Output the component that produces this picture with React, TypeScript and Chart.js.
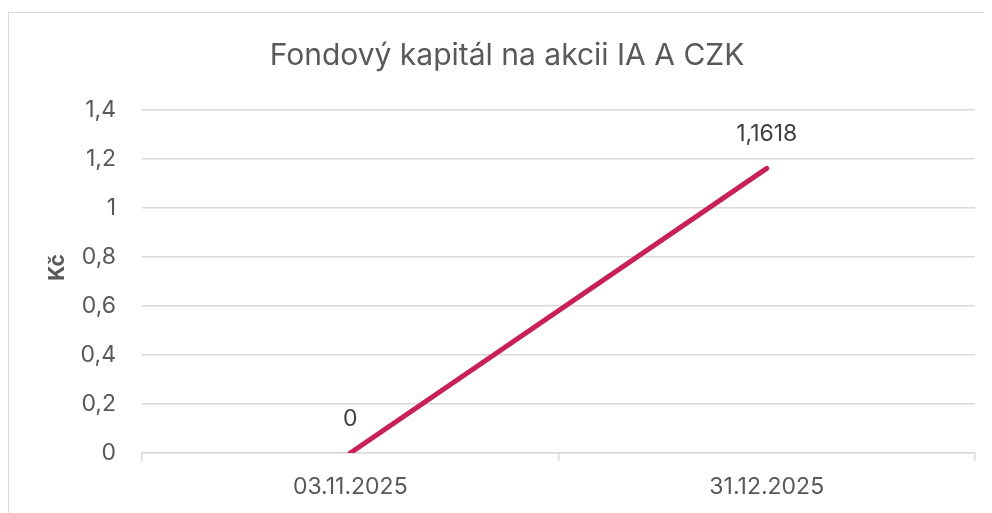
import React, { useEffect, useRef } from "react";
import { Chart, registerables } from "chart.js";

Chart.register(...registerables);

const TITLE = "Fondový kapitál na akcii IA A CZK";
const Y_TITLE = "Kč";
const categories = ["03.11.2025", "31.12.2025"];
const values = [0, 1.1618];
const valueLabels = ["0", "1,1618"];
const yMin = 0;
const yMax = 1.4;
const yStep = 0.2;

const FONT = "Inter, 'Noto Sans', sans-serif";
const TEXT = "#595959";
const GRID = "#d9d9d9";
const LINE = "#C8215A";

const dataLabelPlugin = {
  id: "dataLabels",
  afterDatasetsDraw(chart: any) {
    const ctx = chart.ctx;
    const meta = chart.getDatasetMeta(0);
    ctx.save();
    ctx.font = `23px ${FONT}`;
    ctx.fillStyle = "#404040";
    ctx.textAlign = "center";
    ctx.textBaseline = "middle";
    meta.data.forEach((pt: any, i: number) => {
      ctx.fillText(valueLabels[i], pt.x, pt.y - 34);
    });
    ctx.restore();
  },
};

const yTitlePlugin = {
  id: "yTitle",
  afterDraw(chart: any) {
    const ctx = chart.ctx;
    const area = chart.chartArea;
    ctx.save();
    ctx.translate(49, (area.top + area.bottom) / 2 - 14);
    ctx.rotate(-Math.PI / 2);
    ctx.font = `bold 21px ${FONT}`;
    ctx.fillStyle = TEXT;
    ctx.textAlign = "center";
    ctx.textBaseline = "middle";
    ctx.fillText(Y_TITLE, 0, 0);
    ctx.restore();
  },
};

export default function App() {
  const ref = useRef<HTMLCanvasElement | null>(null);
  useEffect(() => {
    document.body.style.overflow = "hidden";
    if (!ref.current) return;
    const chart = new Chart(ref.current, {
      type: "line",
      data: {
        labels: categories,
        datasets: [
          {
            data: values,
            borderColor: LINE,
            borderWidth: 5,
            borderCapStyle: "round",
            pointRadius: 0,
            tension: 0,
          },
        ],
      },
      options: {
        animation: false,
        responsive: false,
        layout: { padding: { left: 30, right: 15, top: 0, bottom: 0 } },
        plugins: {
          legend: { display: false },
          tooltip: { enabled: false },
          title: {
            display: true,
            text: TITLE,
            color: TEXT,
            font: { family: FONT, size: 30, weight: "normal" },
            padding: { top: 25, bottom: 36 },
          },
        },
        scales: {
          x: {
            offset: true,
            grid: {
              offset: true,
              drawOnChartArea: false,
              drawTicks: true,
              tickLength: 8,
              color: GRID,
              lineWidth: 1.5,
            },
            border: { display: true, color: GRID, width: 1.5 },
            ticks: { color: TEXT, font: { family: FONT, size: 23 }, padding: 12, maxRotation: 0 },
            afterFit: (s: any) => {
              s.height = 60;
            },
          },
          y: {
            min: yMin,
            max: yMax,
            ticks: {
              stepSize: yStep,
              color: TEXT,
              font: { family: FONT, size: 23 },
              padding: 26,
              callback: (v: any) => String(+Number(v).toFixed(1)).replace(".", ","),
            },
            grid: { drawTicks: false, color: GRID, lineWidth: 1.5 },
            border: { display: false },
            afterFit: (s: any) => {
              s.width = 103;
            },
          },
        },
      },
      plugins: [dataLabelPlugin, yTitlePlugin],
    });
    return () => chart.destroy();
  }, []);
  return (
    <div
      style={{
        marginTop: 4,
        width: 1000,
        height: 505,
        border: "1px solid #d9d9d9",
        background: "#fff",
      }}
    >
      <canvas ref={ref} width={981} height={500} style={{ display: "block" }} />
    </div>
  );
}
